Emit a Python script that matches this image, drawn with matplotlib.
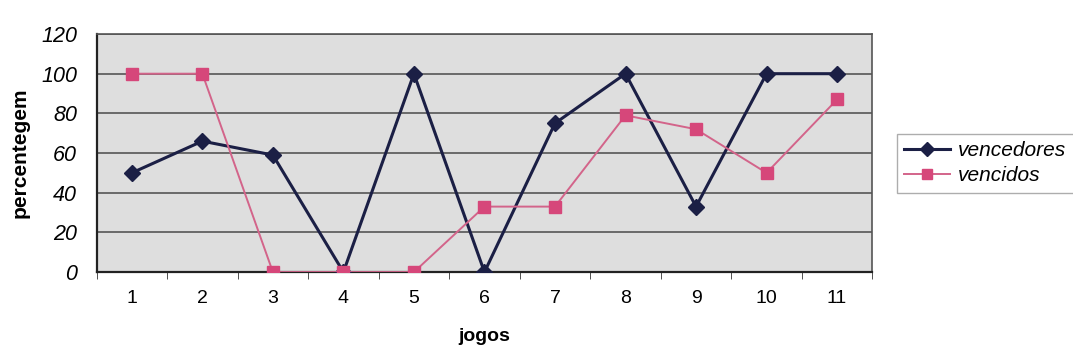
import numpy as np
import matplotlib.pyplot as plt

plt.rcParams['font.family'] = ['Liberation Sans', 'DejaVu Sans']

jogos = [1, 2, 3, 4, 5, 6, 7, 8, 9, 10, 11]
vencedores = [50, 66, 59, 0, 100, 0, 75, 100, 33, 100, 100]
vencidos = [100, 100, 0, 0, 0, 33, 33, 79, 72, 50, 87]

fig = plt.figure(figsize=(10.73, 3.58), dpi=100)
ax = fig.add_axes([0.090, 0.240, 0.723, 0.665])
ax.set_facecolor('#dedede')

ax.plot(jogos, vencedores, color='#1b1f45', lw=2.2, marker='D', ms=8,
        mfc='#1b1f45', mec='#1b1f45', label='vencedores', zorder=3)
ax.plot(jogos, vencidos, color='#d3648a', lw=1.4, marker='s', ms=9,
        mfc='#d6477a', mec='#d6477a', label='vencidos', zorder=3)

ax.set_xlim(0.5, 11.5)
ax.set_ylim(0, 120)
ax.set_yticks(np.arange(0, 121, 20))
ax.set_xticks(jogos)
ax.set_xticks(np.arange(0.5, 12, 1), minor=True)
ax.tick_params(axis='x', which='major', length=0, pad=13, labelsize=14)
ax.tick_params(axis='x', which='minor', length=5, color='#333333')
ax.tick_params(axis='y', length=0, pad=14, labelsize=15.5)
for t in ax.get_yticklabels():
    t.set_fontstyle('italic')

ax.grid(axis='y', color='#4a4a4a', lw=1.1)
ax.set_axisbelow(True)
for side in ['left', 'bottom']:
    ax.spines[side].set_color('#222222')
    ax.spines[side].set_linewidth(1.6)
for side in ['top', 'right']:
    ax.spines[side].set_color('#555555')
    ax.spines[side].set_linewidth(1.2)

ax.set_ylabel('percentegem', fontsize=15, fontweight='bold', labelpad=8)
ax.set_xlabel('jogos', fontsize=14, fontweight='bold', labelpad=15)

leg = ax.legend(loc='upper left', bbox_to_anchor=(0.826, 0.655),
                bbox_transform=fig.transFigure, frameon=True, fancybox=False,
                prop={'style': 'italic', 'size': 15}, handlelength=2.2,
                markerscale=0.85, borderpad=0.35, labelspacing=0.3,
                handletextpad=0.4)
leg.get_frame().set_edgecolor('#999999')
leg.get_frame().set_linewidth(1.0)

fig.savefig('out.png', dpi=100)
